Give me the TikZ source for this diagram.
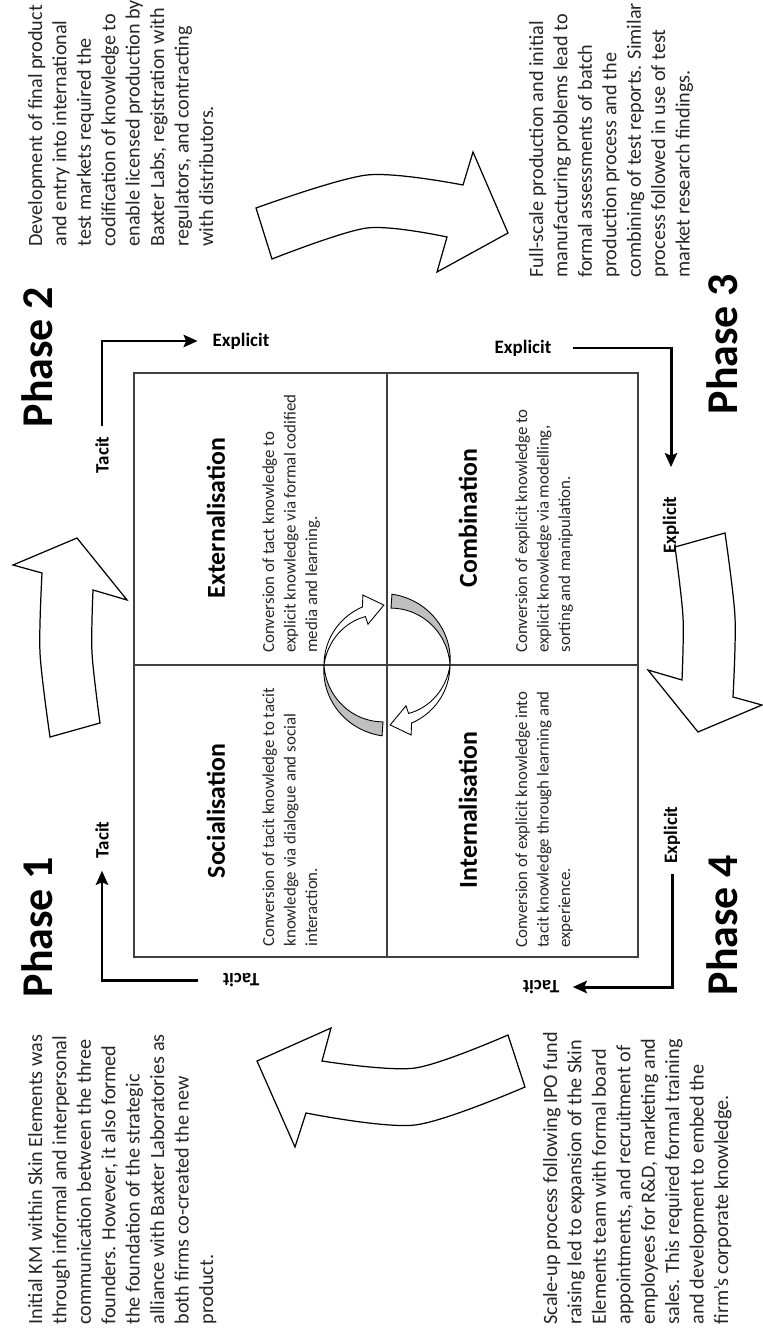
\documentclass[tikz,border=0pt]{standalone}
\usepackage{fontspec}
\setmainfont{Carlito}
\usepackage{tikz}
\usetikzlibrary{arrows.meta}

\begin{document}
\begin{tikzpicture}[x=0.02cm,y=-0.02cm,>={Stealth[length=8pt,width=7pt,inset=1.5pt]},semithick]
    \tikzset{phase/.style={font=\fontsize{25}{30}\selectfont\bfseries,inner sep=0pt,rotate=90},
             story/.style={font=\fontsize{11.5}{13.9}\selectfont,text=black!85,align=left,inner sep=0pt,anchor=north west,rotate=90},
             quadtitle/.style={font=\fontsize{14.7}{17}\selectfont\bfseries,inner sep=0pt,rotate=90},
             quadtext/.style={font=\fontsize{9.6}{12.2}\selectfont,text=black!85,align=left,inner sep=0pt,anchor=north west,rotate=90},
             axislabel/.style={font=\fontsize{10.8}{13}\selectfont\bfseries,inner sep=0pt},
             axis/.style={->,line width=1.7pt},
             bigarrow/.style={draw,line width=0.7pt,line join=miter},
             turn/.style={draw,line width=0.5pt,fill=white},
             shade/.style={draw,line width=0.5pt,fill=black!25}}

    \useasboundingbox (0,0) rectangle (763,1331);

    % knowledge square
    \draw[black!75,line width=0.8pt] (134,373) rectangle (638,957);
    \draw[black!75,line width=0.8pt] (387,373) -- (387,957);
    \draw[black!75,line width=0.8pt] (134,665) -- (638,665);

    \node[quadtitle] (ext) at (216,518) {Externalisation};
    \node[quadtitle] (soc) at (216,811) {Socialisation};
    \node[quadtitle] (com) at (468,518) {Combination};
    \node[quadtitle] (int) at (468,810) {Internalisation};

    \node[quadtext] (extText) at (262,653) {Conversion of tact knowledge to\\explicit knowledge via formal codified\\media and learning.};
    \node[quadtext] (socText) at (262,947) {Conversion of tacit knowledge to tacit\\knowledge via dialogue and social\\interaction.};
    \node[quadtext] (comText) at (515,653) {Conversion of explicit knowledge to\\explicit knowledge via modelling,\\sorting and manipulation.};
    \node[quadtext] (intText) at (515,948) {Conversion of explicit knowledge into\\tacit knowledge through learning and\\experience.};

    % spiral in the middle
    \begin{scope}[shift={(387,665)}]
        \draw[shade] plot[domain=180:94,samples=30] ({(63+8*(180-\x)/86)*cos(\x)},{(63+8*(180-\x)/86)*sin(\x)})
            -- plot[domain=94:180,samples=30] ({(63-6*(180-\x)/86)*cos(\x)},{(63-6*(180-\x)/86)*sin(\x)}) -- cycle;
        \draw[turn] plot[domain=180:247,samples=30] ({63*cos(\x)},{63*sin(\x)}) -- (251:74) -- (267:60) -- (245:45)
            -- plot[domain=246:180,samples=30] ({(63-10*(\x-180)/66)*cos(\x)},{(63-10*(\x-180)/66)*sin(\x)}) -- cycle;
        \draw[shade] plot[domain=0:-86,samples=30] ({(63-8*(\x)/86)*cos(\x)},{(63-8*(\x)/86)*sin(\x)})
            -- plot[domain=-86:0,samples=30] ({(63+6*(\x)/86)*cos(\x)},{(63+6*(\x)/86)*sin(\x)}) -- cycle;
        \draw[turn] plot[domain=0:67,samples=30] ({63*cos(\x)},{63*sin(\x)}) -- (71:74) -- (87:60) -- (65:45)
            -- plot[domain=66:0,samples=30] ({(63-10*(\x)/66)*cos(\x)},{(63-10*(\x)/66)*sin(\x)}) -- cycle;
    \end{scope}

    % phase arrows
    \draw[bigarrow] plot[smooth] coordinates {(100,723) (92,653) (93,590)} -- (127,600) -- (77,538) -- (13,565)
        -- plot[smooth] coordinates {(42,573) (40,653) (50,737)} -- cycle;
    \draw[bigarrow] plot[smooth] coordinates {(256,208) (367,175) (463,185)} -- (473,152) -- (508,233) -- (437,272)
        -- plot[smooth] coordinates {(447,237) (367,228) (272,259)} -- cycle;
    \draw[bigarrow] plot[smooth] coordinates {(675,547) (683,617) (682,680)} -- (648,670) -- (698,732) -- (762,705)
        -- plot[smooth] coordinates {(733,697) (735,617) (725,533)} -- cycle;
    \draw[bigarrow] plot[smooth] coordinates {(508,1035) (415,1068) (322,1061)} -- (331,1028) -- (257,1061) -- (295,1147)
        -- plot[smooth] coordinates {(306,1113) (415,1125) (525,1087)} -- cycle;

    \node[phase] (ph1) at (37,927) {Phase 1};
    \node[phase] (ph2) at (37,357) {Phase 2};
    \node[phase] (ph3) at (722,344) {Phase 3};
    \node[phase] (ph4) at (722,925) {Phase 4};

    \node[story] (story1) at (27.5,1325) {Initial KM within Skin Elements was\\through informal and interpersonal\\communication between the three\\founders. However, it also formed\\the foundation of the strategic\\alliance with Baxter Laboratories as\\both firms co-created the new\\product.};
    \node[story] (story2) at (27.5,247) {Development of final product\\and entry into international\\test markets required the\\codification of knowledge to\\enable licensed production by\\Baxter Labs, registration with\\regulators, and contracting\\with distributors.};
    \node[story] (story3) at (528.5,278) {Full-scale production and initial\\manufacturing problems lead to\\formal assessments of batch\\production process and the\\combining of test reports. Similar\\process followed in use of test\\market research findings.};
    \node[story] (story4) at (542.5,1325) {Scale-up process following IPO fund\\raising led to expansion of the Skin\\Elements team with formal board\\appointments, and recruitment of\\employees for R\&D, marketing and\\sales. This required formal training\\and development to embed the\\firm's corporate knowledge.};

    % tacit / explicit axes
    \node[axislabel,rotate=90] (tacA) at (102,840) {Tacit};
    \node[axislabel,rotate=180] (tacB) at (241,980) {Tacit};
    \node[axislabel,rotate=90] (tacC) at (102,455) {Tacit};
    \node[axislabel] (expA) at (241,341) {Explicit};
    \node[axislabel] (expB) at (523,348) {Explicit};
    \node[axislabel,rotate=90] (expC) at (671,525) {Explicit};
    \node[axislabel,rotate=90] (expD) at (672,835) {Explicit};
    \node[axislabel,rotate=180] (tacD) at (541,987) {Tacit};

    \draw[axis,shorten <=0.48cm,shorten >=0.24cm] (tacB) -| (tacA);
    \draw[axis,shorten <=0.2cm,shorten >=0.29cm] (tacC) |- (expA);
    \draw[axis,shorten <=0.43cm,shorten >=0.58cm] (expB) -| (expC);
    \draw[axis,shorten <=0.2cm,shorten >=0.26cm] (expD) |- (tacD);
\end{tikzpicture}
\end{document}
